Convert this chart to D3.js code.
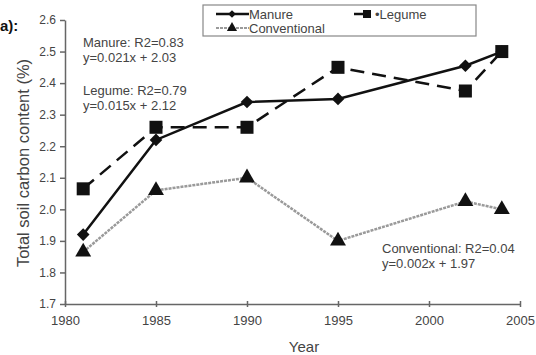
<!DOCTYPE html>
<html>
<head>
<meta charset="utf-8">
<script src="https://cdn.jsdelivr.net/npm/d3@7"></script>
<style>
  body { margin: 0; background: #fff; }
  svg { display: block; font-family: "Liberation Sans", Arial, sans-serif; }
</style>
</head>
<body>
<div id="chart"></div>
<script>
// data
const years = [1981, 1985, 1990, 1995, 2002, 2004];
const manure = [1.92, 2.22, 2.34, 2.35, 2.455, 2.50];
const legume = [2.065, 2.26, 2.26, 2.45, 2.375, 2.50];
const conventional = [1.865, 2.06, 2.10, 1.90, 2.025, 2.00];
const xTicks = [1980, 1985, 1990, 1995, 2000, 2005];
const yTicks = [1.7, 1.8, 1.9, 2.0, 2.1, 2.2, 2.3, 2.4, 2.5, 2.6];

let width = 536, height = 355;
let svg = d3.select('#chart').append('svg')
    .attr('width', width)
    .attr('height', height);

let xScale = d3.scaleLinear().domain([1980, 2005]).range([65, 520]);
let yScale = d3.scaleLinear().domain([1.7, 2.6]).range([304, 20]);

const axisColor = '#666', textColor = '#444';

// axes
let xAxis = svg.append('g')
    .attr('transform', `translate(0,${yScale(1.7)})`)
    .call(d3.axisBottom(xScale).tickValues(xTicks).tickFormat(d3.format('d')).tickSize(5).tickSizeOuter(0));
let yAxis = svg.append('g')
    .attr('transform', `translate(${xScale(1980)},0)`)
    .call(d3.axisLeft(yScale).tickValues(yTicks).tickFormat(d3.format('.1f')).tickSize(5).tickSizeOuter(0));
[xAxis, yAxis].forEach(a => {
    a.select('.domain').attr('stroke', axisColor).attr('stroke-width', 1.5);
    a.selectAll('line').attr('stroke', axisColor).attr('stroke-width', 1.5);
    a.selectAll('text').attr('fill', textColor).style('font-size', '12px');
});
// x tick marks point up and down a little
xAxis.selectAll('.tick line').attr('y1', -3).attr('y2', 3);
xAxis.selectAll('.tick text').attr('y', 12).style('font-size', '13px');
yAxis.selectAll('.tick line').attr('x1', -5).attr('x2', 0);
yAxis.selectAll('.tick text').attr('x', -9);

// axis titles
svg.append('text')
    .attr('x', 304).attr('y', 352)
    .attr('text-anchor', 'middle')
    .attr('fill', textColor)
    .style('font-size', '15px')
    .text('Year');
svg.append('text')
    .attr('transform', 'translate(29,163) rotate(-90)')
    .attr('text-anchor', 'middle')
    .attr('fill', textColor)
    .style('font-size', '16.5px')
    .text('Total soil carbon content (%)');

// panel label
svg.append('text')
    .attr('x', 0).attr('y', 31)
    .attr('fill', '#111')
    .style('font-size', '15px')
    .style('font-weight', 'bold')
    .text('a):');

// lines
let line = d3.line().x((d, i) => xScale(years[i])).y(d => yScale(d));

svg.append('path').datum(conventional)
    .attr('d', line).attr('fill', 'none')
    .attr('stroke', '#9a9a9a').attr('stroke-width', 2.5)
    .attr('stroke-dasharray', '3,1');
svg.append('path').datum(legume)
    .attr('d', line).attr('fill', 'none')
    .attr('stroke', '#111').attr('stroke-width', 2.5)
    .attr('stroke-dasharray', '14,8');
svg.append('path').datum(manure)
    .attr('d', line).attr('fill', 'none')
    .attr('stroke', '#111').attr('stroke-width', 2.5);

// markers
let diamond = d3.symbol().type(d3.symbolSquare).size(80);
svg.selectAll('.m-manure')
    .data(manure).enter()
    .append('path')
    .attr('d', diamond)
    .attr('transform', (d, i) => `translate(${xScale(years[i])},${yScale(d)}) rotate(45)`)
    .attr('fill', '#111');
svg.selectAll('.m-legume')
    .data(legume).enter()
    .append('rect')
    .attr('x', (d, i) => xScale(years[i]) - 6.5)
    .attr('y', d => yScale(d) - 6.5)
    .attr('width', 13).attr('height', 13)
    .attr('fill', '#111');
let tri = d3.symbol().type(d3.symbolTriangle).size(110);
svg.selectAll('.m-conv')
    .data(conventional).enter()
    .append('path')
    .attr('d', tri)
    .attr('transform', (d, i) => `translate(${xScale(years[i])},${yScale(d)})`)
    .attr('fill', '#111');

// regression notes
const notes = [
    {x: 83, y: 47, t: 'Manure: R2=0.83'},
    {x: 83, y: 62, t: 'y=0.021x + 2.03'},
    {x: 83, y: 95, t: 'Legume: R2=0.79'},
    {x: 83, y: 110, t: 'y=0.015x + 2.12'},
    {x: 382, y: 253, t: 'Conventional: R2=0.04'},
    {x: 382, y: 268, t: 'y=0.002x + 1.97'}
];
svg.selectAll('.note')
    .data(notes).enter()
    .append('text')
    .attr('x', d => d.x).attr('y', d => d.y)
    .attr('fill', textColor)
    .style('font-size', '13px')
    .text(d => d.t);

// legend
let lg = svg.append('g');
lg.append('rect')
    .attr('x', 203).attr('y', 5)
    .attr('width', 273).attr('height', 31)
    .attr('fill', '#fff').attr('stroke', '#888').attr('stroke-width', 1.2);
lg.append('line').attr('x1', 216).attr('x2', 249).attr('y1', 14).attr('y2', 14)
    .attr('stroke', '#111').attr('stroke-width', 2.5);
lg.append('path').attr('d', d3.symbol().type(d3.symbolSquare).size(30))
    .attr('transform', 'translate(232,14) rotate(45)').attr('fill', '#111');
lg.append('text').attr('x', 249).attr('y', 19).attr('fill', textColor)
    .style('font-size', '13px').text('Manure');
lg.append('line').attr('x1', 216).attr('x2', 249).attr('y1', 28).attr('y2', 28)
    .attr('stroke', '#9a9a9a').attr('stroke-width', 2).attr('stroke-dasharray', '3,1');
lg.append('path').attr('d', d3.symbol().type(d3.symbolTriangle).size(45))
    .attr('transform', 'translate(232,28)').attr('fill', '#111');
lg.append('text').attr('x', 249).attr('y', 33).attr('fill', textColor)
    .style('font-size', '13px').text('Conventional');
lg.append('line').attr('x1', 354).attr('x2', 368).attr('y1', 14).attr('y2', 14)
    .attr('stroke', '#111').attr('stroke-width', 2.5);
lg.append('rect').attr('x', 363).attr('y', 10).attr('width', 8).attr('height', 8).attr('fill', '#111');
lg.append('text').attr('x', 375).attr('y', 19).attr('fill', textColor)
    .style('font-size', '13px').text('\u2022Legume');
</script>
</body>
</html>
